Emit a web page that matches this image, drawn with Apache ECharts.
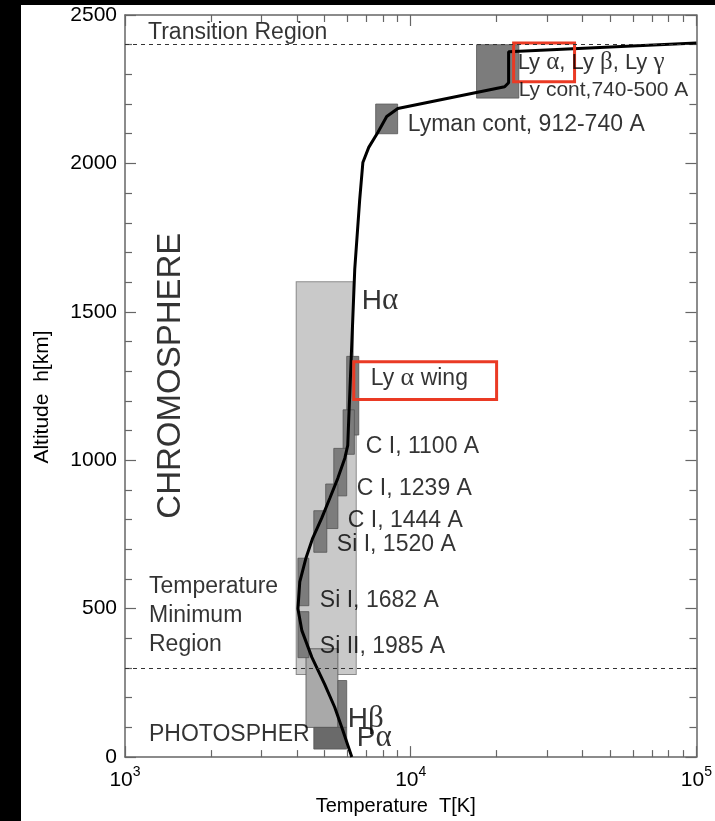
<!DOCTYPE html>
<html><head><meta charset="utf-8">
<script src="https://cdn.jsdelivr.net/npm/echarts@6/dist/echarts.min.js"></script>
<style>html,body{margin:0;padding:0;background:#fff}#c{width:715px;height:821px}</style>
</head><body><div id="c"></div>
<script>
// ---------- data ----------
// temperature profile (T in K, h in km)
const profileTemp   = [6220, 5780, 5420, 5000, 4510, 4160, 4030, 4090, 4300, 4540, 4880, 5210, 5560, 5880, 6020, 6070, 6170, 6270, 6370, 6630, 6800, 7130, 7670, 8240, 9010, 21320, 22010, 22010, 100000];
const profileHeight = [0, 91, 168, 245, 336, 426, 500, 590, 671, 738, 805, 872, 940, 1007, 1050, 1141, 1309, 1477, 1644, 1879, 2003, 2054, 2104, 2158, 2185, 2258, 2272, 2376, 2406];
// formation regions: [Tmin, Tmax, hMin, hMax, shadeIndex]
const rectNames = ['H alpha', 'Si/C continua', 'H beta', 'Ly alpha wing', 'C I 1100', 'C I 1239', 'C I 1444', 'Si I 1520', 'Si I 1682', 'Si II 1985', 'H beta core', 'P alpha', 'Lyman cont 912-740', 'Ly lines / Ly cont 740-500'];
const rectTmin = [3990, 4030, 4300, 5970, 5800, 5380, 5040, 4580, 4030, 4030, 5560, 4580, 7540, 17000];
const rectTmax = [6270, 6420, 5560, 6580, 6350, 5970, 5560, 5085, 4400, 4400, 5970, 5970, 9000, 23900];
const rectHmin = [280, 280, 100, 1085, 1020, 880, 770, 690, 510, 335, 100, 27, 2100, 2220];
const rectHmax = [1600, 1100, 365, 1350, 1170, 1040, 920, 830, 670, 490, 258, 100, 2200, 2400];
const rectShade = [0, 0, 1, 2, 2, 2, 2, 2, 2, 2, 2, 3, 2, 2];
// region boundaries (km)
const boundaryHeights = [2400, 300];
// highlighted boxes: [Tmin, Tmax, hMin, hMax]
const redTmin = [22920, 6320];
const redTmax = [37450, 19980];
const redHmin = [2275, 1205];
const redHmax = [2406, 1332];
// annotations: anchor (left edge, vertical centre) in data coords; {g|..} marks Greek letters
const noteText = ['Transition Region', 'Ly {g|\u03b1}, Ly {g|\u03b2}, Ly {g|\u03b3}', 'Ly cont,740-500 A', 'Lyman cont, 912-740 A', 'H{g|\u03b1}', 'Ly {g|\u03b1} wing', 'C I, 1100 A', 'C I, 1239 A', 'C I, 1444 A', 'Si I, 1520 A', 'Si I, 1682 A', 'Si II, 1985 A', 'Temperature\nMinimum\nRegion', 'PHOTOSPHER', 'H{g|\u03b2}', 'P{g|\u03b1}'];
const noteT = [1203, 23660, 23860, 9761, 6742, 7246, 6961, 6477, 6021, 5511, 4807, 4807, 1213, 1213, 6021, 6477];
const noteH = [2440, 2339, 2248, 2131, 1537, 1275, 1047, 906, 795, 715, 527, 372, 477, 74, 128, 64];
const noteSize = [23, 22, 21, 23, 28, 23, 23, 23, 23, 23, 23, 23, 23, 23, 28, 28];
const bigLabel = 'CHROMOSPHERE';
const bigLabelT = 1448, bigLabelH = 1285;
// axes
const xMajorTicks = [1000, 10000, 100000];
const xMinorTicks = [2000,3000,4000,5000,6000,7000,8000,9000,20000,30000,40000,50000,60000,70000,80000,90000];
const yMin = 0, yMax = 2500, yStep = 500;

// ---------- styles ----------
const shadeColors = ['#c9c9c9', '#a9a9a9', '#7c7c7c', '#6a6a6a'];
const FONT = '"Liberation Sans", Arial, Helvetica, sans-serif';
const GREEK = '"Liberation Serif", "DejaVu Serif", serif';
const axisColor = '#666';

const chart = echarts.init(document.getElementById('c'));

const rectData = rectTmin.map((t, i) => [t, rectTmax[i], rectHmin[i], rectHmax[i], rectShade[i]]);
const lightData = rectData.filter(r => r[4] === 0);
const darkData = rectData.filter(r => r[4] !== 0);
const redData = redTmin.map((t, i) => [t, redTmax[i], redHmin[i], redHmax[i]]);
const lineData = profileTemp.map((t, i) => [t, profileHeight[i]]);
const notes = noteText.map((s, i) => ({
  value: [noteT[i], noteH[i]], name: s,
  label: { fontSize: noteSize[i], lineHeight: s.indexOf('\n') >= 0 ? 29 : noteSize[i] + 2,
    rich: { g: { fontFamily: GREEK, fontSize: Math.round(noteSize[i] * 1.12), color: '#000' } } }
}));

function rectRenderer(mode) {
  return (params, api) => {
    const p0 = api.coord([api.value(0), api.value(3)]);
    const p1 = api.coord([api.value(1), api.value(2)]);
    const shape = { x: p0[0], y: p0[1], width: p1[0] - p0[0], height: p1[1] - p0[1] };
    let style;
    if (mode === 'outline') style = { fill: 'none', stroke: '#8a8a8a', lineWidth: 2 };
    else if (mode === 'fill') style = { fill: shadeColors[api.value(4)], stroke: null };
    else if (mode === 'red') style = { fill: 'none', stroke: '#ea3a24', lineWidth: 3 };
    else style = { fill: shadeColors[api.value(4)], stroke: '#555', lineWidth: 0.8 };
    return { type: 'rect', shape, style };
  };
}

function xAxisDef(pos, major) {
  return {
    type: 'log', logBase: 10, min: 1000, max: 100000, position: pos, gridIndex: 0,
    axisLine: { show: major, onZero: false, lineStyle: { color: axisColor, width: 1.5 } },
    axisTick: { show: true, inside: true, length: major ? 11 : 7, customValues: major ? xMajorTicks : xMinorTicks,
                lineStyle: { color: axisColor, width: 1.2 } },
    axisLabel: { show: major && pos === 'bottom', customValues: xMajorTicks, margin: 8,
      formatter: v => '{b|10}{s|' + Math.round(Math.log10(v)) + '}',
      rich: { b: { fontSize: 21, fontFamily: FONT, color: '#000', lineHeight: 26, verticalAlign: 'bottom' },
              s: { fontSize: 14, fontFamily: FONT, color: '#000', lineHeight: 14, verticalAlign: 'top' } } },
    splitLine: { show: false }, minorTick: { show: false }, minorSplitLine: { show: false },
    name: (major && pos === 'bottom') ? 'Temperature  T[K]' : '',
    nameLocation: 'middle', nameGap: 34,
    nameTextStyle: { fontSize: 20, fontFamily: FONT, color: '#000', padding: [0, 30, 0, 0] }
  };
}
function yAxisDef(pos) {
  return {
    type: 'value', min: yMin, max: yMax, interval: yStep, position: pos, gridIndex: 0,
    axisLine: { show: true, onZero: false, lineStyle: { color: axisColor, width: 1.5 } },
    axisTick: { show: true, inside: true, length: 11, lineStyle: { color: axisColor, width: 1.2 } },
    minorTick: { show: true, splitNumber: 5, length: 7, lineStyle: { color: axisColor, width: 1.2 } },
    axisLabel: { show: pos === 'left', fontSize: 21, fontFamily: FONT, color: '#000', margin: 8,
                 formatter: v => String(v) },
    splitLine: { show: false }, minorSplitLine: { show: false },
    name: pos === 'left' ? 'Altitude  h[km]' : '',
    nameLocation: 'middle', nameGap: 72,
    nameTextStyle: { fontSize: 21, fontFamily: FONT, color: '#000', padding: [0, 22, 0, 0] }
  };
}

chart.setOption({
  animation: false,
  backgroundColor: '#fff',
  grid: { left: 125, right: 18, top: 15, bottom: 61, containLabel: false },
  xAxis: [xAxisDef('bottom', true), xAxisDef('bottom', false), xAxisDef('top', true), xAxisDef('top', false)],
  yAxis: [yAxisDef('left'), yAxisDef('right')],
  graphic: [
    { type: 'rect', left: 0, top: 0, shape: { width: 21, height: 821 }, style: { fill: '#000' }, z: 100 },
    { type: 'rect', left: 0, top: 0, shape: { width: 715, height: 5 }, style: { fill: '#000' }, z: 100 }
  ],
  series: [
    { type: 'line', data: [], z: 1, silent: true,
      markLine: { silent: true, symbol: 'none', label: { show: false },
        lineStyle: { color: '#333', type: [4, 4], width: 1 },
        data: boundaryHeights.map(h => ({ yAxis: h })) } },
    { type: 'custom', z: 2, silent: true, data: lightData, encode: { x: [0, 1], y: [2, 3] }, renderItem: rectRenderer('outline') },
    { type: 'custom', z: 2, silent: true, data: lightData, encode: { x: [0, 1], y: [2, 3] }, renderItem: rectRenderer('fill') },
    { type: 'custom', z: 2, silent: true, data: darkData, encode: { x: [0, 1], y: [2, 3] }, renderItem: rectRenderer('normal') },
    { type: 'line', z: 3, data: lineData, showSymbol: false, symbol: 'none', smooth: false,
      lineStyle: { color: '#000', width: 3 } },
    { type: 'custom', z: 4, silent: true, data: redData, encode: { x: [0, 1], y: [2, 3] }, renderItem: rectRenderer('red') },
    { type: 'scatter', z: 5, silent: true, symbolSize: 0.1, itemStyle: { color: 'transparent' },
      data: notes,
      label: { show: true, position: 'right', distance: 0, formatter: p => p.name, color: '#000', fontFamily: FONT } },
    { type: 'scatter', z: 5, silent: true, symbolSize: 0.1, itemStyle: { color: 'transparent' },
      data: [{ value: [bigLabelT, bigLabelH], name: bigLabel }],
      label: { show: true, position: 'inside', rotate: 90, formatter: p => p.name, color: '#000', fontFamily: FONT, fontSize: 33, align: 'center', verticalAlign: 'middle' } }
  ]
});
</script></body></html>
